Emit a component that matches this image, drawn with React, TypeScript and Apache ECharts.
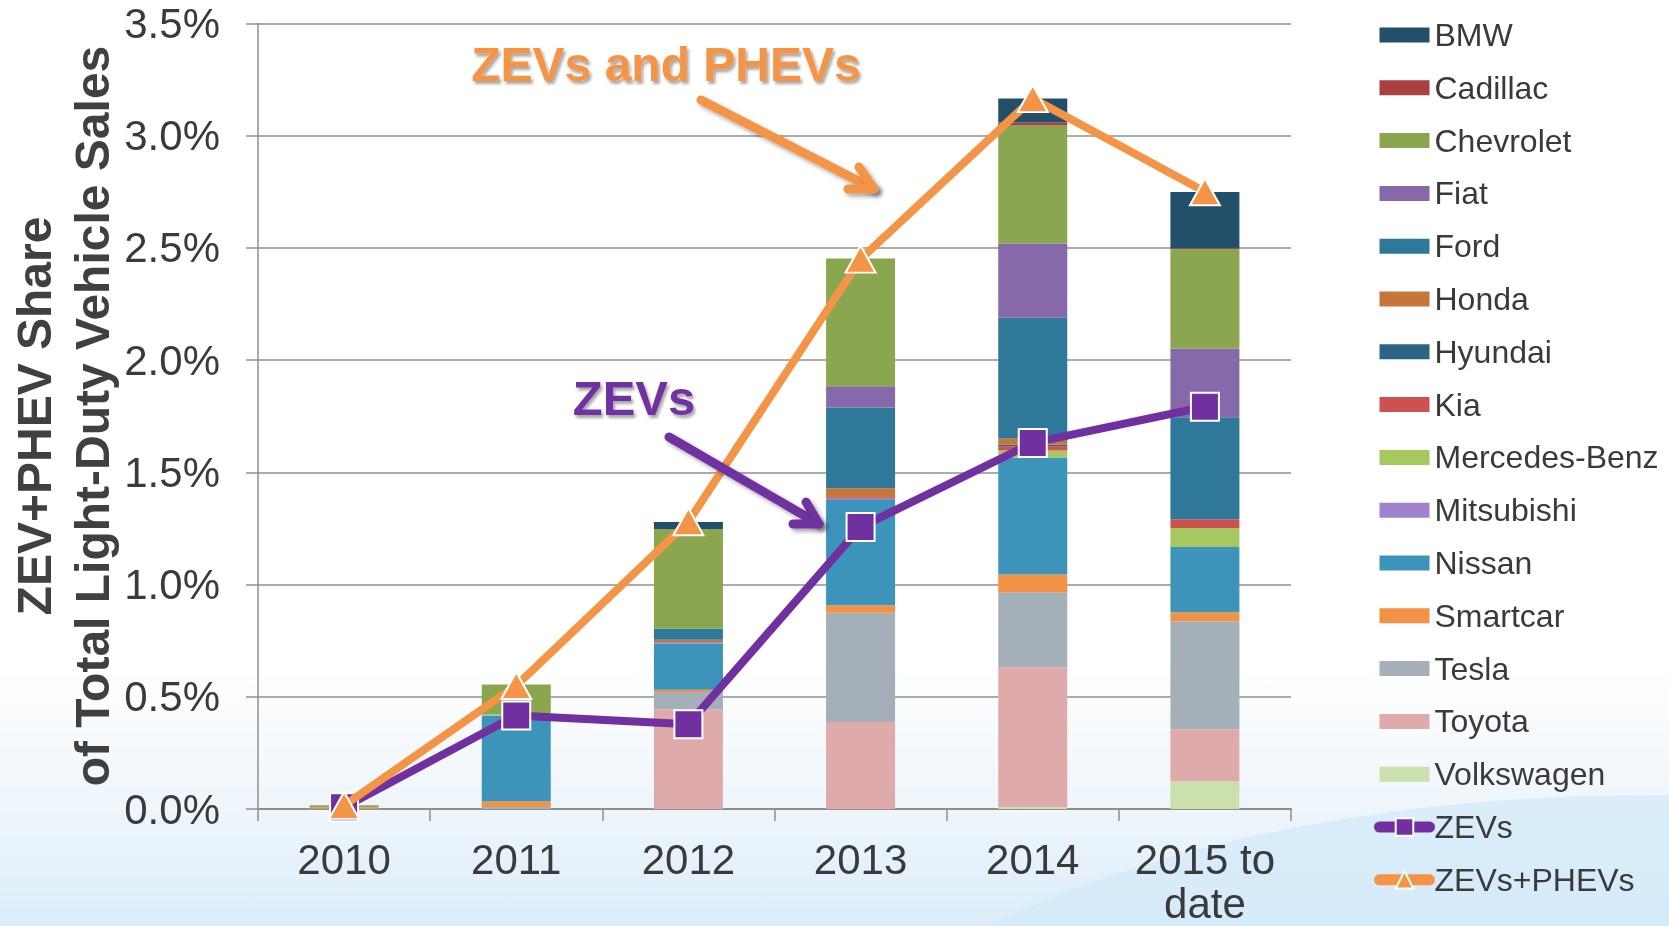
import React, { useEffect, useRef } from "react";
import * as echarts from "echarts";

const categories = ["2010", "2011", "2012", "2013", "2014", "2015 to\ndate"];

const legendOrder = [
  "BMW", "Cadillac", "Chevrolet", "Fiat", "Ford", "Honda", "Hyundai", "Kia",
  "Mercedes-Benz", "Mitsubishi", "Nissan", "Smartcar", "Tesla", "Toyota", "Volkswagen",
  "ZEVs", "ZEVs+PHEVs",
];

// share of total light-duty vehicle sales, % (stack order bottom -> top)
const volkswagen = [0, 0, 0, 0, 0.009, 0.124];
const toyota = [0, 0, 0.444, 0.388, 0.622, 0.231];
const tesla = [0.001, 0.009, 0.077, 0.486, 0.335, 0.482];
const smartcar = [0.006, 0.025, 0.01, 0.034, 0.079, 0.04];
const nissan = [0.001, 0.383, 0.206, 0.469, 0.521, 0.29];
const mitsubishi = [0, 0, 0.007, 0.009, 0, 0];
const mercedes = [0, 0.004, 0, 0, 0.031, 0.085];
const kia = [0, 0, 0, 0, 0.019, 0.039];
const hyundai = [0, 0, 0, 0, 0.007, 0];
const honda = [0, 0, 0.01, 0.043, 0.028, 0];
const ford = [0, 0, 0.049, 0.36, 0.538, 0.454];
const fiat = [0, 0, 0, 0.094, 0.33, 0.307];
const chevrolet = [0.009, 0.134, 0.445, 0.57, 0.526, 0.442];
const cadillac = [0, 0, 0, 0, 0.013, 0.004];
const bmw = [0, 0, 0.031, 0, 0.107, 0.251];

const zevs = [0.008, 0.417, 0.378, 1.256, 1.631, 1.792];
const zevsPhevs = [0.016, 0.55, 1.28, 2.45, 3.165, 2.75];

const yTicks = { min: 0, max: 3.5, interval: 0.5 };

const barStack: [string, number[], string][] = [
  ["Volkswagen", volkswagen, "#CCE0AE"],
  ["Toyota", toyota, "#DFAAAA"],
  ["Tesla", tesla, "#A4AFB7"],
  ["Smartcar", smartcar, "#F29245"],
  ["Nissan", nissan, "#3C94BA"],
  ["Mitsubishi", mitsubishi, "#A282CE"],
  ["Mercedes-Benz", mercedes, "#A6C85E"],
  ["Kia", kia, "#CC5150"],
  ["Hyundai", hyundai, "#2B6584"],
  ["Honda", honda, "#C6763A"],
  ["Ford", ford, "#2E7899"],
  ["Fiat", fiat, "#8569AA"],
  ["Chevrolet", chevrolet, "#8AA64E"],
  ["Cadillac", cadillac, "#A8403F"],
  ["BMW", bmw, "#22506A"],
];

const FONT = "Liberation Sans";
const TEXT = "#3a3a3a";
const AXIS = "#8f8f8f";
const PURPLE = "#7030A0";
const ORANGE = "#F39446";

export default function App() {
  const ref = useRef<HTMLDivElement>(null);
  useEffect(() => {
    if (!ref.current) return;
    const chart = echarts.init(ref.current, null, { renderer: "svg" });
    const barSeries = barStack.map(([name, data, color]) => ({
      name,
      type: "bar",
      stack: "total",
      data,
      barWidth: 69,
      itemStyle: { color },
    }));
    const shadow = {
      shadowBlur: 4,
      shadowOffsetX: 3,
      shadowOffsetY: 3,
      shadowColor: "rgba(0,0,0,0.35)",
    };
    const centered = {
      align: "center",
      verticalAlign: "middle",
      textAlign: "center",
      textVerticalAlign: "middle",
    };
    const textShadow = {
      textShadowColor: "rgba(0,0,0,0.35)",
      textShadowBlur: 3,
      textShadowOffsetX: 2,
      textShadowOffsetY: 3,
    };
    const option: any = {
      animation: false,
      textStyle: { fontFamily: FONT },
      grid: {
        left: 258,
        right: 378,
        top: 23.4,
        bottom: 117,
        containLabel: false,
        outerBoundsMode: "none",
      },
      xAxis: {
        type: "category",
        data: categories,
        axisLine: { show: true, lineStyle: { color: AXIS, width: 2 } },
        axisTick: { show: true, length: 12, alignWithLabel: false, interval: 0, lineStyle: { color: AXIS, width: 1.5 } },
        axisLabel: { interval: 0, fontSize: 42, color: TEXT, margin: 28, lineHeight: 44, fontFamily: FONT },
      },
      yAxis: {
        type: "value",
        min: yTicks.min,
        max: yTicks.max,
        interval: yTicks.interval,
        axisLine: { show: true, lineStyle: { color: AXIS, width: 1.5 } },
        axisTick: { show: true, length: 12, lineStyle: { color: AXIS, width: 1.5 } },
        splitLine: { show: true, lineStyle: { color: AXIS, width: 1.5 } },
        axisLabel: {
          fontSize: 42,
          color: TEXT,
          margin: 38,
          fontFamily: FONT,
          formatter: (v: number) => v.toFixed(1) + "%",
        },
      },
      legend: {
        orient: "vertical",
        left: 1374,
        top: 19,
        padding: 0,
        itemWidth: 50,
        itemHeight: 22,
        itemGap: 20.8,
        selectedMode: false,
        textStyle: { fontSize: 32, color: TEXT, lineHeight: 32, fontFamily: FONT },
        data: legendOrder.map((n) => {
          if (n === "ZEVs") {
            return { name: n, lineStyle: { color: PURPLE, width: 11, cap: "round" } };
          }
          if (n === "ZEVs+PHEVs") {
            return { name: n, lineStyle: { color: ORANGE, width: 11, cap: "round" } };
          }
          return { name: n, icon: "path://M0,0H50V15H0Z" };
        }),
      },
      series: [
        ...barSeries,
        {
          name: "ZEVs",
          type: "line",
          data: zevs,
          symbol: "rect",
          symbolSize: 28,
          z: 5,
          lineStyle: { color: PURPLE, width: 8 },
          itemStyle: { color: PURPLE, borderColor: "#ffffff", borderWidth: 2 },
        },
        {
          name: "ZEVs+PHEVs",
          type: "line",
          data: zevsPhevs,
          symbol: "triangle",
          symbolSize: [30, 27],
          z: 6,
          lineStyle: { color: ORANGE, width: 8 },
          itemStyle: { color: ORANGE, borderColor: "#ffffff", borderWidth: 2 },
        },
      ],
      graphic: [
        {
          type: "rect",
          z: -100,
          silent: true,
          shape: { x: 0, y: 0, width: 1669, height: 926 },
          style: {
            fill: new echarts.graphic.LinearGradient(0, 0, 0, 1, [
              { offset: 0, color: "#ffffff" },
              { offset: 0.72, color: "#ffffff" },
              { offset: 0.88, color: "#edf5fb" },
              { offset: 1, color: "#dcedf9" },
            ]),
          },
        },
        {
          type: "ellipse",
          z: -99,
          silent: true,
          shape: { cx: 1650, cy: 1200, rx: 900, ry: 405 },
          style: { fill: "#d3e9f8", opacity: 0.75 },
        },
        {
          type: "text",
          z: 50,
          x: 34,
          y: 416,
          rotation: Math.PI / 2,
          style: {
            text: "ZEV+PHEV Share",
            fill: "#404040",
            fontSize: 48,
            fontWeight: "bold",
            fontFamily: FONT,
            ...centered,
          },
        },
        {
          type: "text",
          z: 50,
          x: 92,
          y: 416,
          rotation: Math.PI / 2,
          style: {
            text: "of Total Light-Duty Vehicle Sales",
            fill: "#404040",
            fontSize: 48,
            fontWeight: "bold",
            fontFamily: FONT,
            ...centered,
          },
        },
        {
          type: "text",
          z: 50,
          x: 666,
          y: 64,
          style: {
            text: "ZEVs and PHEVs",
            fill: ORANGE,
            fontSize: 48,
            fontWeight: "bold",
            fontFamily: FONT,
            ...centered,
            ...textShadow,
          },
        },
        {
          type: "text",
          z: 50,
          x: 634,
          y: 398,
          style: {
            text: "ZEVs",
            fill: PURPLE,
            fontSize: 49,
            fontWeight: "bold",
            fontFamily: FONT,
            ...centered,
            ...textShadow,
          },
        },
        {
          type: "polyline",
          z: 50,
          shape: { points: [[701, 100], [874, 189]] },
          style: { stroke: ORANGE, lineWidth: 9, lineCap: "round", lineJoin: "round", fill: null, ...shadow },
        },
        {
          type: "polyline",
          z: 50,
          shape: { points: [[859, 167], [874, 189], [848, 189]] },
          style: { stroke: ORANGE, lineWidth: 9, lineCap: "round", lineJoin: "round", fill: null, ...shadow },
        },
        {
          type: "polyline",
          z: 50,
          shape: { points: [[669, 437], [819, 524]] },
          style: { stroke: PURPLE, lineWidth: 9, lineCap: "round", lineJoin: "round", fill: null, ...shadow },
        },
        {
          type: "polyline",
          z: 50,
          shape: { points: [[806, 502], [819, 524], [793, 524]] },
          style: { stroke: PURPLE, lineWidth: 9, lineCap: "round", lineJoin: "round", fill: null, ...shadow },
        },
      ],
    };
    chart.setOption(option);
    return () => chart.dispose();
  }, []);
  return (
    <div
      ref={ref}
      style={{ position: "fixed", left: 0, top: 0, width: 1669, height: 926 }}
    />
  );
}
